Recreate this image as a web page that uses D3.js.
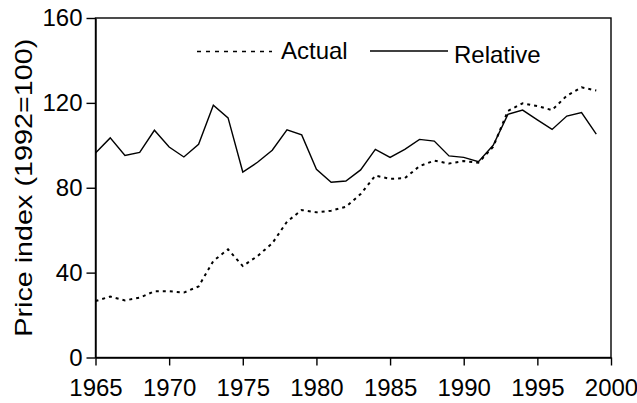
<!DOCTYPE html>
<html>
<head>
<meta charset="utf-8">
<script src="https://cdn.jsdelivr.net/npm/d3@7"></script>
<style>
  body { margin: 0; background: #fff; }
  text { font-family: Arial, "Liberation Sans", sans-serif; fill: #000; }
</style>
</head>
<body>
<div id="chart"></div>
<script>
const years = d3.range(1965, 2000)
const actual = [26.6, 28.7, 26.9, 28.2, 31.2, 31.2, 30.6, 33.5, 45.5, 51.0,
  43.1, 47.8, 53.8, 64.0, 69.5, 68.4, 69.2, 71.0, 77.0, 85.7,
  84.2, 84.5, 90.2, 92.8, 91.4, 92.6, 91.8, 99.3, 116.2, 119.8,
  118.5, 116.6, 123.4, 127.3, 125.8]
const relative = [96.4, 103.5, 95.2, 96.7, 107.1, 99.2, 94.5, 100.5, 118.9, 112.9,
  87.4, 92.0, 97.7, 107.3, 104.9, 88.7, 82.6, 83.2, 88.4, 98.1,
  94.3, 98.1, 102.8, 102.0, 95.0, 94.3, 92.3, 100.0, 114.6, 116.6,
  112.0, 107.5, 113.8, 115.4, 105.3]
const xTicks = [1965, 1970, 1975, 1980, 1985, 1990, 1995, 2000]
const yTicks = [0, 40, 80, 120, 160]

const width = 637, height = 403
const plotLeft = 95.5, plotRight = 611, plotTop = 18, plotBottom = 357.5

const svg = d3.select('#chart').append('svg')
  .attr('width', width)
  .attr('height', height)

const x = d3.scaleLinear().domain([1965, 2000]).range([plotLeft, plotRight])
const y = d3.scaleLinear().domain([0, 160]).range([plotBottom, plotTop])

// axes
svg.append('g')
  .attr('transform', `translate(0,${plotBottom})`)
  .call(d3.axisBottom(x).tickValues(xTicks).tickFormat(d3.format('d')).tickSizeInner(8).tickSizeOuter(0).tickPadding(13))
  .call(g => g.selectAll('text').attr('font-size', 24))

svg.append('g')
  .attr('transform', `translate(${plotLeft},0)`)
  .call(d3.axisLeft(y).tickValues(yTicks).tickSizeInner(9).tickSizeOuter(0).tickPadding(4))
  .call(g => g.selectAll('text').attr('font-size', 24))

svg.selectAll('.domain, .tick line').attr('stroke', '#000').attr('stroke-width', 1.4)
svg.selectAll('.tick text').attr('fill', '#000')

// frame around the plot
svg.append('rect')
  .attr('x', plotLeft).attr('y', plotTop)
  .attr('width', plotRight - plotLeft).attr('height', plotBottom - plotTop)
  .attr('fill', 'none').attr('stroke', '#000').attr('stroke-width', 1.4)

// y axis title
svg.append('text')
  .attr('transform', `translate(32,${(plotTop + plotBottom) / 2}) rotate(-90)`)
  .attr('text-anchor', 'middle')
  .attr('font-size', 24)
  .attr('textLength', 298)
  .attr('lengthAdjust', 'spacingAndGlyphs')
  .text('Price index (1992=100)')

// series
const line = d3.line().x((d, i) => x(years[i])).y(d => y(d))

svg.append('path')
  .datum(relative)
  .attr('d', line)
  .attr('fill', 'none')
  .attr('stroke', '#000')
  .attr('stroke-width', 1.4)

svg.append('path')
  .datum(actual)
  .attr('d', line)
  .attr('fill', 'none')
  .attr('stroke', '#000')
  .attr('stroke-width', 2)
  .attr('stroke-dasharray', '3,4')

// legend
svg.append('line')
  .attr('x1', 197).attr('x2', 272).attr('y1', 51.5).attr('y2', 51.5)
  .attr('stroke', '#000').attr('stroke-width', 1.6).attr('stroke-dasharray', '4,5')
svg.append('text').attr('x', 281).attr('y', 59).attr('font-size', 24).text('Actual')

svg.append('line')
  .attr('x1', 370).attr('x2', 448).attr('y1', 51).attr('y2', 51)
  .attr('stroke', '#000').attr('stroke-width', 1.4)
svg.append('text').attr('x', 454).attr('y', 63).attr('font-size', 24).text('Relative')
</script>
</body>
</html>
